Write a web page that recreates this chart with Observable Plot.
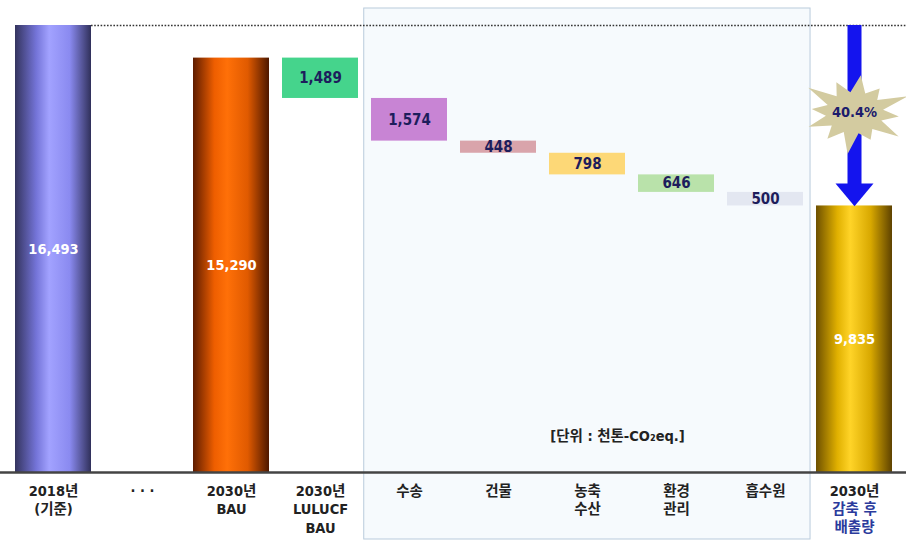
<!DOCTYPE html>
<html>
<head>
<meta charset="utf-8">
<script src="https://cdn.jsdelivr.net/npm/d3@7"></script>
<script src="https://cdn.jsdelivr.net/npm/@observablehq/plot@0.6"></script>
<style>
  html, body { margin: 0; padding: 0; background: #ffffff; }
  #chart { width: 906px; height: 540px; }
</style>
</head>
<body>
<div id="chart"></div>
<script>
// ---- data ----
const categories = ["2018", "dots", "BAU", "LULUCF", "수송", "건물", "농축수산", "환경관리", "흡수원", "감축후"];
const labelMain = ["2018년\n(기준)", "· · ·", "2030년\nBAU", "2030년\nLULUCF\nBAU", "수송", "건물", "농축\n수산", "환경\n관리", "흡수원", "2030년"];
const labelBlue = ["", "", "", "", "", "", "", "", "", "감축 후\n배출량"];

const totalCats = ["2018", "BAU", "감축후"];
const totalValues = [16493, 15290, 9835];
const totalGradients = ["gPurple", "gOrange", "gGold"];

const reductionCats = ["LULUCF", "수송", "건물", "농축수산", "환경관리", "흡수원"];
const reductionValues = [1489, 1574, 448, 798, 646, 500];
const reductionColors = ["#45d48c", "#c884d4", "#d9a4ab", "#fdd877", "#b9e2aa", "#e3e7f1"];

const unitLabel = "[단위 : 천톤-CO₂eq.]";

// ---- derived tables ----
const totals = totalCats.map((c, i) => ({cat: c, value: totalValues[i], fill: `url(#${totalGradients[i]})`}));
let running = totalValues[1];
const steps = reductionCats.map((c, i) => {
  const top = running;
  running -= reductionValues[i];
  return {cat: c, value: reductionValues[i], y1: top, y2: running, mid: (top + running) / 2, fill: reductionColors[i]};
});
const base = totalValues[0];
const final = totalValues[2];
const pct = ((base - final) / base * 100).toFixed(1) + "%";
const labels = categories.map((c, i) => ({cat: c, main: labelMain[i], blue: labelBlue[i]}));

const fmt = d3.format(",");
const font = "'DejaVu Sans Condensed', 'Noto Sans CJK KR', sans-serif";

const starSymbol = {
  draw(ctx, size) {
    const r = Math.sqrt(size / Math.PI);
    const outer = [1.0, 0.8, 1.1, 0.85, 1.05, 0.78, 1.1, 0.86, 0.95, 0.82, 1.1, 0.88];
    const n = outer.length;
    for (let k = 0; k < n * 2; k++) {
      const a = (k / (n * 2)) * 2 * Math.PI - Math.PI / 2 + 0.12;
      const rr = k % 2 === 0 ? outer[k / 2] : 0.55;
      const px = Math.cos(a) * r * rr * 1.25;
      const py = Math.sin(a) * r * rr * 0.9;
      if (k === 0) ctx.moveTo(px, py); else ctx.lineTo(px, py);
    }
    ctx.closePath();
  }
};
const headSymbol = {
  draw(ctx, size) {
    const r = Math.sqrt(size / Math.PI);
    ctx.moveTo(-r, -0.6 * r);
    ctx.lineTo(r, -0.6 * r);
    ctx.lineTo(0, 0.6 * r);
    ctx.closePath();
  }
};

const chart = Plot.plot({
  width: 906,
  height: 540,
  marginTop: 25,
  marginBottom: 68,
  marginLeft: 0,
  marginRight: 0,
  style: {fontFamily: font, background: "transparent"},
  x: {domain: categories, padding: 0.15, axis: null},
  y: {domain: [0, base], axis: null},
  marks: [
    Plot.ruleY([base], {stroke: "#333", strokeWidth: 1.6, strokeDasharray: "1.6,1.6", insetLeft: 91}),
    Plot.barY(totals, {x: "cat", y: "value", fill: "fill"}),
    Plot.barY(steps, {x: "cat", y1: "y1", y2: "y2", fill: "fill"}),
    Plot.ruleY([0], {stroke: "#444", strokeWidth: 2.5}),
    Plot.text(totals, {x: "cat", y: d => d.value / 2, text: d => fmt(d.value), fill: "white", fontSize: 14.5, fontWeight: "bold"}),
    Plot.text(steps, {x: "cat", y: "mid", text: d => fmt(d.value), fill: "#1d1d5c", fontSize: 15, fontWeight: "bold"}),
    // arrow
    Plot.ruleX([{cat: "감축후", y1: base, y2: final}], {x: "cat", y1: "y1", y2: "y2", stroke: "#1414ee", strokeWidth: 14, insetBottom: 20}),
    Plot.dot([{cat: "감축후", y: final}], {x: "cat", y: "y", symbol: headSymbol, r: 19, fill: "#1414ee", stroke: "none", dy: -11}),
    Plot.dot([{cat: "감축후", y: (base + final) / 2}], {x: "cat", y: "y", symbol: starSymbol, r: 42, fill: "#d3cba0", stroke: "none", dy: -3}),
    Plot.text([{cat: "감축후", y: (base + final) / 2}], {x: "cat", y: "y", text: () => pct, fill: "#1c1c6c", fontSize: 14.5, fontWeight: "bold", dy: -3}),
    // unit label
    Plot.text([{cat: "농축수산"}], {x: "cat", frameAnchor: "bottom", text: () => unitLabel, dx: 30, dy: -32, fontSize: 14.5, fontWeight: "bold", fill: "#222"}),
    // category labels
    Plot.text(labels, {x: "cat", frameAnchor: "bottom", lineAnchor: "top", text: "main", dy: 11, fontSize: 14.5, fontWeight: "bold", fill: "#222", lineHeight: 1.25}),
    Plot.text(labels, {x: "cat", frameAnchor: "bottom", lineAnchor: "top", text: "blue", dy: 29, fontSize: 14.5, fontWeight: "bold", fill: "#2b3b9c", lineHeight: 1.25})
  ]
});

// gradients & background box
const svg = d3.select(chart);
const defs = svg.insert("defs", ":first-child");
const grads = {
  gPurple: ["#34345e", "#7474d8", "#a2a2ff", "#8a8af0", "#30305a"],
  gOrange: ["#5e1c00", "#ee5e00", "#ff7008", "#e05a00", "#4e1800"],
  gGold:   ["#6e5000", "#e0b000", "#ffd428", "#d8a800", "#5e4200"]
};
for (const [id, cols] of Object.entries(grads)) {
  const g = defs.append("linearGradient").attr("id", id).attr("x1", 0).attr("x2", 1).attr("y1", 0).attr("y2", 0);
  const offs = [0, 0.28, 0.45, 0.72, 1];
  cols.forEach((c, i) => g.append("stop").attr("offset", offs[i]).attr("stop-color", c));
}
const xs = chart.scale("x");
const band = d3.scaleBand().domain(xs.domain).range(xs.range)
  .paddingInner(xs.paddingInner ?? xs.padding ?? 0.15)
  .paddingOuter(xs.paddingOuter ?? xs.padding ?? 0.15)
  .align(xs.align ?? 0.5);
const half = band.step() * band.paddingInner() / 2;
const bx0 = band("수송") - half;
const bx1 = band("흡수원") + band.bandwidth() + half;
svg.insert("rect", "g")
  .attr("x", bx0).attr("y", 8).attr("width", bx1 - bx0).attr("height", 531)
  .attr("fill", "#f6fafd").attr("stroke", "#b9cbdc").attr("stroke-width", 1);

document.getElementById("chart").appendChild(chart);
</script>
</body>
</html>
